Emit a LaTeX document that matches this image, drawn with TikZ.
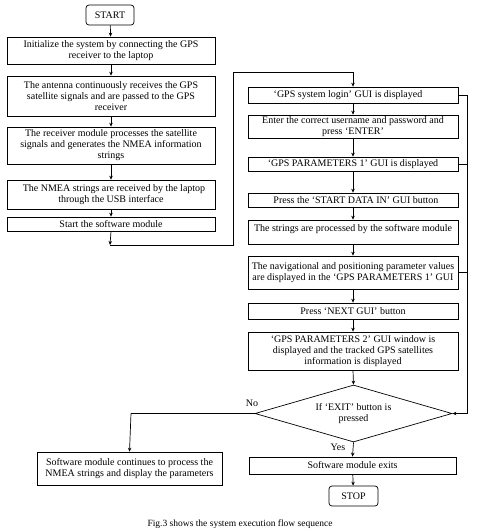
\documentclass[tikz,border=0pt]{standalone}
\usepackage{fontspec}
\setmainfont{Liberation Serif}
\usetikzlibrary{shapes.geometric,arrows.meta}
\begin{document}
\begin{tikzpicture}[x=1pt,y=-1pt,
  every node/.style={font=\fontsize{10}{11}\selectfont},
  box/.style={draw, line width=0.7pt, inner sep=0pt, align=center, anchor=center},
  term/.style={draw, line width=0.7pt, rounded corners=3pt, inner sep=0pt, align=center},
  dec/.style={draw, line width=0.7pt, diamond, aspect=3.45, inner sep=0pt, align=center},
  conn/.style={line width=0.7pt},
  arr/.style={line width=0.7pt, -{Stealth[length=4pt,width=3.5pt]}},
  lbl/.style={inner sep=0pt}]
\useasboundingbox (0,0) rectangle (480,531);
% left column
\node[term, minimum width=48, minimum height=20] (start) at (110,15) {START};
\node[box, minimum width=208, minimum height=27] (b1) at (111,50.5) {Initialize the system by connecting the GPS\\receiver to the laptop};
\node[box, minimum width=208, minimum height=40] (b2) at (111,96) {The antenna continuously receives the GPS\\satellite signals and are passed to the GPS\\receiver};
\node[box, minimum width=208, minimum height=37] (b3) at (111,145.5) {The receiver module processes the satellite\\signals and generates the NMEA information\\strings};
\node[box, minimum width=208, minimum height=29] (b4) at (111,194.5) {\hspace*{6pt}The NMEA strings are received by the laptop\\through the USB interface};
\node[box, minimum width=208, minimum height=14] (b5) at (111,224) {Start the software module};
% right column
\node[box, minimum width=210, minimum height=16] (r1) at (353,95) {\hspace*{-10pt}‘GPS system login’ GUI is displayed};
\node[box, minimum width=210, minimum height=23] (r2) at (353,126.5) {Enter the correct username and password and\\press ‘ENTER’};
\node[box, minimum width=210, minimum height=14] (r3) at (353,164) {‘GPS PARAMETERS 1’ GUI is displayed};
\node[box, minimum width=210, minimum height=14] (r4) at (353,200) {\hspace*{6pt}Press the ‘START DATA IN’ GUI button};
\node[box, minimum width=210, minimum height=24, text depth=9pt, text height=7pt] (r5) at (353,232) {The strings are processed by the software module};
\node[box, minimum width=210, minimum height=33] (r6) at (353,272.5) {The navigational and positioning parameter values\\are displayed in the ‘GPS PARAMETERS 1’ GUI};
\node[box, minimum width=210, minimum height=16] (r7) at (353,311) {Press ‘NEXT GUI’ button};
\node[box, minimum width=210, minimum height=38] (r8) at (353,351) {‘GPS PARAMETERS 2’ GUI window is\\displayed and the tracked GPS satellites\\information is displayed};
\node[dec, minimum width=197, minimum height=57] (d) at (353.5,413.5) {If ‘EXIT’ button is\\pressed};
\node[box, minimum width=207, minimum height=17] (ex) at (352.5,465.5) {Software module exits};
\node[term, minimum width=49, minimum height=20] (stop) at (353.5,496) {STOP};
\node[box, minimum width=185, minimum height=33] (l6) at (129.5,468.5) {Software module continues to process the\\NMEA strings and display the parameters};
\node[lbl, font=\fontsize{9.5}{11}\selectfont] (cap) at (240,524) {Fig.3 shows the system execution flow sequence};
\node[lbl] (no) at (252,403) {No};
\node[lbl] (yes) at (338,447) {Yes};
% coordinates
\coordinate (la) at (110,245);
\coordinate (lb) at (233,245);
\coordinate (lc) at (233,72);
\coordinate (ld) at (353,72);
\coordinate (ra) at (467,95);
\coordinate (rb) at (467,413.5);
\coordinate (na) at (131,413.5);
% connectors left
\draw[arr] (start) -- (b1);
\draw[arr] (b1) -- (b2);
\draw[arr] (b2) -- (b3);
\draw[arr] (b3) -- (b4);
\draw[arr] (b4) -- (b5);
\draw[arr] (b5.south) -- (la);
\draw[conn] (la) -- (lb) -- (lc) -- (ld);
\draw[arr] (ld) -- (r1.north);
% right chain
\draw[arr] (r1) -- (r2);
\draw[arr] (r2) -- (r3);
\draw[arr] (r3) -- (r4);
\draw[arr] (r4) -- (r5);
\draw[arr] (r5) -- (r6);
\draw[arr] (r6) -- (r7);
\draw[arr] (r7) -- (r8);
\draw[arr] (r8.south) -- (d.north);
\draw[conn] (r1.east) -- (ra);
\draw[conn] (r3.east) -- (r3.east -| ra);
\draw[conn] (r6.east) -- (r6.east -| ra);
\draw[conn] (ra) -- (rb);
\draw[arr] (rb) -- (d.east);
\draw[conn] (d.west) -- (na);
\draw[arr] (na) -- (l6.north);
\draw[arr] (d.south) -- (ex.north);
\draw[arr] (ex) -- (stop);
\end{tikzpicture}
\end{document}
